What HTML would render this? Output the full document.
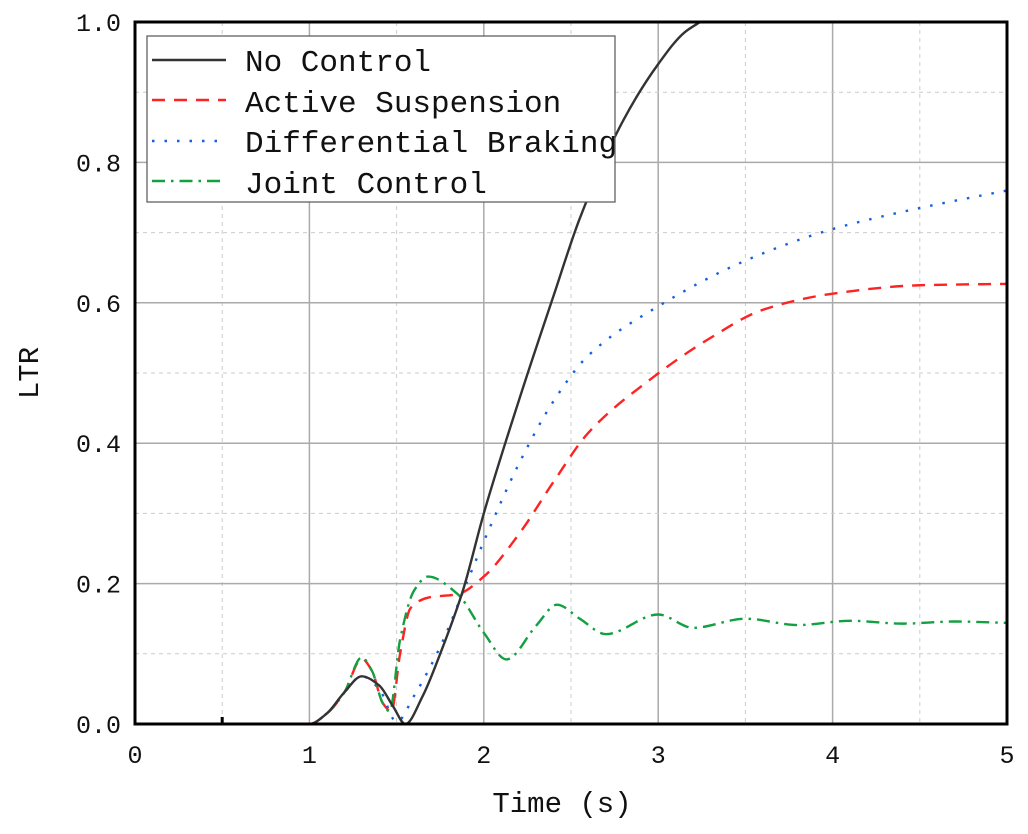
<!DOCTYPE html>
<html><head><meta charset="utf-8"><style>
body{margin:0;background:#fff;width:1028px;height:829px;overflow:hidden}
svg text{font-family:"Liberation Mono","Noto Serif CJK SC",monospace;fill:#111}
</style></head><body>
<svg id="s" width="1028" height="829" xmlns="http://www.w3.org/2000/svg">
<g id="grid"></g>
<g id="curves" fill="none" stroke-width="2.4"></g>
<rect x="135" y="22" width="872" height="702" fill="none" stroke="#000" stroke-width="3"/>
<g id="ticks" font-size="25"></g>
<text x="562" y="812" font-size="29" text-anchor="middle">Time (s)</text>
<text transform="translate(38,373) rotate(-90)" font-size="29" text-anchor="middle">LTR</text>
<g>
<rect x="147" y="36" width="468" height="166" fill="#fff" stroke="#555" stroke-width="1.2"/>
<line x1="152" y1="60" x2="226" y2="60" stroke="#333" stroke-width="2.4"/>
<line x1="152" y1="100" x2="226" y2="100" stroke="#f22" stroke-width="2.4" stroke-dasharray="13,9"/>
<line x1="152" y1="141" x2="226" y2="141" stroke="#1560e0" stroke-width="2.4" stroke-dasharray="2.5,10"/>
<line x1="152" y1="181" x2="226" y2="181" stroke="#12a040" stroke-width="2.4" stroke-dasharray="13,6,2.5,6"/>
<text x="245" y="71" font-size="31">No Control</text>
<text x="245" y="112" font-size="31">Active Suspension</text>
<text x="245" y="152" font-size="31">Differential Braking</text>
<text x="245" y="193" font-size="31">Joint Control</text>
</g>
</svg>
<script>
const X=t=>135+174.4*t, Y=v=>724-702*v;
const ns="http://www.w3.org/2000/svg";
function el(p,tag,a){const e=document.createElementNS(ns,tag);for(const k in a)e.setAttribute(k,a[k]);p.appendChild(e);return e;}
const g=document.getElementById('grid');
for(let i=1;i<10;i++){const t=i*0.5;el(g,'line',{x1:X(t),x2:X(t),y1:22,y2:724,stroke:i%2?'#ccc':'#aaa','stroke-width':i%2?1:1.5,'stroke-dasharray':i%2?'4,4':''});}
for(let i=1;i<10;i++){const v=i*0.1;el(g,'line',{x1:135,x2:1007,y1:Y(v),y2:Y(v),stroke:i%2?'#ccc':'#aaa','stroke-width':i%2?1:1.5,'stroke-dasharray':i%2?'4,4':''});}
const tk=document.getElementById('ticks');
for(let i=0;i<=5;i++){const e=el(tk,'text',{x:X(i),y:763,'text-anchor':'middle'});e.textContent=i;}
for(let i=0;i<=5;i++){const v=i*0.2;const e=el(tk,'text',{x:121,y:Y(v)+9,'text-anchor':'end'});e.textContent=v.toFixed(1);}
el(tk,'line',{x1:X(0.5),x2:X(0.5),y1:717,y2:724,stroke:'#000','stroke-width':3});
function path(pts,col,dash){
 const n=pts.length,xs=pts.map(p=>p[0]),ys=pts.map(p=>p[1]);
 const d=[],m=[];
 for(let i=0;i<n-1;i++)d.push((ys[i+1]-ys[i])/(xs[i+1]-xs[i]));
 m[0]=d[0];m[n-1]=d[n-2];
 for(let i=1;i<n-1;i++){ if(d[i-1]*d[i]<=0)m[i]=0; else {const w1=2*(xs[i+1]-xs[i])+(xs[i]-xs[i-1]),w2=(xs[i+1]-xs[i])+2*(xs[i]-xs[i-1]);m[i]=(w1+w2)/(w1/d[i-1]+w2/d[i]);} }
 let s='M'+X(xs[0])+','+Y(ys[0]);
 for(let i=0;i<n-1;i++){const h=xs[i+1]-xs[i];
  s+=`C${X(xs[i]+h/3)},${Y(ys[i]+m[i]*h/3)} ${X(xs[i+1]-h/3)},${Y(ys[i+1]-m[i+1]*h/3)} ${X(xs[i+1])},${Y(ys[i+1])}`;}
 el(document.getElementById('curves'),'path',{d:s,stroke:col,'stroke-dasharray':dash});
}
const pre=[[0,0],[1,0],[1.1,0.015],[1.2,0.045]];
path([...pre,[1.3,0.093],[1.36,0.075],[1.42,0.03],[1.47,0.018],[1.52,0.1],[1.58,0.165],[1.68,0.18],[1.85,0.185],[2.0,0.21],[2.2,0.27],[2.4,0.345],[2.6,0.415],[2.95,0.49],[3.3,0.55],[3.6,0.59],[4.0,0.613],[4.5,0.625],[5,0.627]],'#f22','13,9');
path([...pre,[1.3,0.068],[1.4,0.05],[1.5,0.003],[1.6,0.04],[1.75,0.11],[1.9,0.2],[2.0,0.26],[2.2,0.37],[2.4,0.46],[2.6,0.525],[3.0,0.595],[3.5,0.66],[4.0,0.705],[4.5,0.735],[5,0.76]],'#1560e0','2.5,10');
path([...pre,[1.3,0.095],[1.36,0.075],[1.42,0.03],[1.46,0.018],[1.52,0.12],[1.6,0.19],[1.68,0.21],[1.85,0.185],[2.0,0.13],[2.13,0.092],[2.3,0.14],[2.42,0.17],[2.55,0.15],[2.7,0.128],[3.0,0.156],[3.2,0.137],[3.5,0.15],[3.8,0.141],[4.1,0.147],[4.4,0.143],[4.7,0.146],[5,0.144]],'#12a040','13,6,2.5,6');
path([...pre,[1.3,0.068],[1.4,0.055],[1.48,0.025],[1.55,0],[1.65,0.04],[1.75,0.1],[1.88,0.19],[2.0,0.3],[2.2,0.46],[2.4,0.61],[2.55,0.72],[2.8,0.86],[3.0,0.94],[3.15,0.985],[3.24,1.0]],'#333','');
</script>
</body></html>
